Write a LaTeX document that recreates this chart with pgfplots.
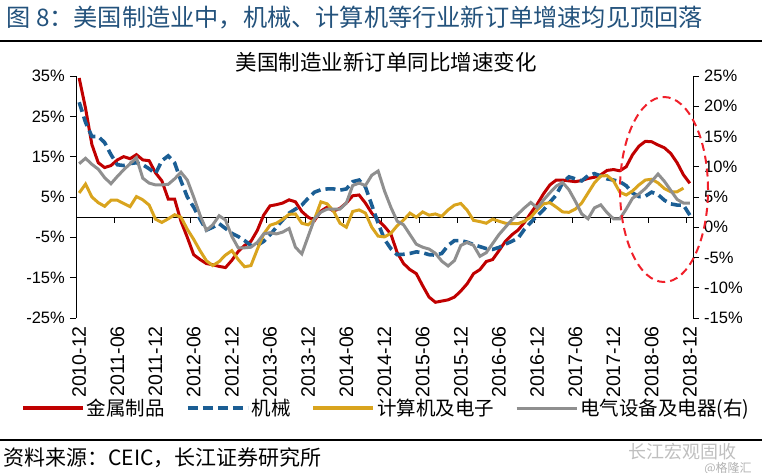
\documentclass[border=0pt]{standalone}
\usepackage{pgfplots}
\usepackage{pgfplotstable}
\pgfplotsset{compat=1.18}
\usepackage{fontspec}
\setmainfont{Liberation Sans}
\newfontfamily\cjk{Noto Sans CJK SC}

\definecolor{cRed}{HTML}{C00000}
\definecolor{cBlue}{HTML}{1B5E94}
\definecolor{cGold}{HTML}{D9A41E}
\definecolor{cGray}{HTML}{8F8F8F}
\definecolor{cTitle}{HTML}{23527C}
\definecolor{cMark}{HTML}{F0202A}

% month index from 2010-12; red/blue/gold on the left axis, gray on the right axis
\pgfplotstableread{
i  red   blue  gold  gray
0  34.5  28.5  6.0   10.5
1  27.0  23.5  8.2   11.4
2  18.0  20.0  5.0   10.4
3  13.5  20.0  3.6   9.6
4  12.3  18.5  2.7   8.2
5  12.8  15.5  4.2   7.2
6  14.2  13.0  4.2   8.4
7  15.0  12.8  3.4   9.5
8  14.5  13.3  2.6   10.5
9  15.5  13.5  5.1   11.5
10 14.2  13.0  4.3   8.1
11 14.0  12.0  3.0   7.3
12 11.0  10.8  -0.5  7.0
13 9.0   14.0  -1.3  7.0
14 4.5   15.2  -0.4  7.1
15 4.5   13.5  0.6   8.0
16 -1.0  9.0   0.0   9.1
17 -5.0  5.0   -3.0  7.8
18 -9.3  2.5   -5.5  5.0
19 -10.5 -0.5  -8.3  2.0
20 -11.5 -3.2  -10.8 -0.5
21 -11.8 -2.5  -12.0 0.4
22 -12.2 -1.6  -11.0 1.9
23 -12.5 -2.8  -9.4  1.2
24 -10.7 -4.0  -8.3  -1.5
25 -8.5  -4.8  -10.5 -3.4
26 -7.0  -5.8  -12.3 -3.4
27 -6.0  -7.0  -12.0 -3.3
28 -3.3  -7.0  -8.0  -2.5
29 0.5   -6.0  -4.2  -1.1
30 2.8   -4.4  -2.0  -0.9
31 3.1   -2.5  -1.5  -1.1
32 3.5   -0.7  -0.5  -0.8
33 4.3   1.0   0.7   -0.2
34 3.8   2.0   0.8   -3.3
35 1.4   3.0   -1.5  -4.4
36 0.0   4.7   -1.9  -1.5
37 -0.8  6.2   -0.5  1.4
38 1.5   6.8   3.8   2.5
39 2.5   7.0   3.3   3.0
40 1.5   7.0   1.5   3.0
41 2.2   6.7   -1.5  3.0
42 3.5   7.0   -2.5  4.0
43 5.3   8.8   1.4   6.9
44 5.5   9.2   1.8   7.3
45 3.5   7.5   1.0   6.9
46 1.0   3.0   -2.5  8.6
47 -0.8  -1.5  -4.7  9.3
48 -2.3  -5.5  -4.9  6.0
49 -4.2  -7.8  -4.0  3.3
50 -8.8  -9.3  -2.1  1.0
51 -11.5 -9.2  -0.7  0.4
52 -13.0 -9.0  1.0   -1.2
53 -14.0 -8.6  0.0   -2.8
54 -17.0 -8.8  1.3   -3.3
55 -19.8 -9.3  0.5   -3.6
56 -21.1 -9.4  0.8   -4.3
57 -20.8 -9.0  0.2   -5.6
58 -20.5 -7.0  1.8   -6.4
59 -19.8 -5.8  3.0   -5.5
60 -18.3 -5.8  3.4   -3.0
61 -16.5 -6.2  1.7   -2.5
62 -14.0 -6.8  -0.8  -3.0
63 -13.0 -7.3  -1.1  -4.8
64 -11.0 -7.8  -1.5  -4.2
65 -10.5 -8.0  -0.5  -2.7
66 -8.3  -7.5  -1.0  -1.2
67 -6.0  -6.7  -1.5  0.0
68 -4.4  -6.0  -1.6  1.2
69 -3.2  -5.2  -1.6  2.2
70 -1.3  -3.0  -1.0  3.2
71 1.0   -1.3  0.0   4.1
72 3.2   0.3   1.8   3.2
73 5.8   1.8   3.3   4.5
74 8.0   3.7   3.6   5.7
75 9.2   5.5   2.5   6.8
76 9.2   8.5   1.3   7.4
77 9.0   10.0  1.2   6.2
78 8.8   9.5   2.0   4.3
79 9.1   9.0   3.5   2.2
80 9.6   10.3  6.0   1.4
81 9.9   10.8  8.5   3.2
82 10.5  10.2  10.2  3.7
83 11.6  9.5   10.3  2.4
84 11.8  9.2   9.0   1.4
85 11.5  8.8   6.2   1.4
86 12.5  7.8   5.5   3.0
87 15.5  6.0   6.5   4.8
88 17.6  5.1   8.0   5.5
89 18.8  5.2   9.2   6.4
90 18.7  6.2   9.4   7.6
91 17.9  5.6   8.5   8.8
92 17.2  4.2   7.1   7.6
93 15.8  3.3   6.3   6.1
94 13.5  3.0   6.3   4.6
95 10.5  3.0   7.2   4.0
96 8.4   0.5   nan   4.0
}\data

\pgfplotsset{
  common/.style={
    scale only axis, width=617pt, height=242pt,
    at={(76pt,154pt)}, anchor=south west,
    xmin=-0.5, xmax=96.5, clip=false,
    axis line style={-, line width=0.9pt},
    tick align=outside, major tick length=6pt,
    tick style={black, line width=0.8pt},
    /pgf/number format/assume math mode=true,
    yticklabel={\pgfmathprintnumber{\tick}\%},
    yticklabel style={font=\fontsize{16.5}{18}\selectfont, inner sep=0pt},
  },
  dashblue/.style={cBlue, line width=3.6pt, dash pattern=on 10pt off 5pt},
}

\begin{document}
\begin{tikzpicture}
\path[use as bounding box] (0,0) rectangle (762pt,472pt);

\node[anchor=west, text=cTitle, font=\cjk\fontsize{24.2}{28}\selectfont] at (3pt,454pt)
  {图 8：美国制造业中，机械、计算机等行业新订单增速均见顶回落};
\draw[line width=1.2pt] (0pt,431pt) -- (762pt,431pt);
\node[font=\cjk\fontsize{21.5}{24}\selectfont] at (386pt,410pt) {美国制造业新订单同比增速变化};

\begin{axis}[common,
  ymin=-25, ymax=35, ytick={-25,-15,...,35},
  axis y line*=left, axis x line*=bottom,
  x axis line style={draw=none},
  xtick={0,6,...,96}, xtick style={draw=none},
  xticklabels={2010-12,2011-06,2011-12,2012-06,2012-12,2013-06,2013-12,2014-06,2014-12,2015-06,2015-12,2016-06,2016-12,2017-06,2017-12,2018-06,2018-12},
  xticklabel style={rotate=90, anchor=east, font=\fontsize{19.5}{20}\selectfont, inner sep=2pt},
  yticklabel style={xshift=-5pt},
]
  \draw[black, line width=0.9pt] (axis cs:-0.5,0) -- (axis cs:96.5,0);
  \pgfplotsinvokeforeach{5.5,11.5,...,95.5}{
    \draw[black, line width=0.8pt] (axis cs:#1,0) -- ++(0pt,-6pt);
  }
  \addplot[cRed, line width=3pt] table[x=i, y=red] {\data};
  \addplot[dashblue] table[x=i, y=blue] {\data};
  \addplot[cGold, line width=3pt] table[x=i, y=gold] {\data};
\end{axis}

\begin{axis}[common,
  ymin=-15, ymax=25, ytick={-15,-10,...,25},
  axis y line*=right, hide x axis,
  yticklabel style={anchor=west, xshift=5pt},
  legend columns=4,
  legend style={at={(0.503,-0.372)}, anchor=center, draw=none, fill=none,
    font=\cjk\fontsize{19.5}{22}\selectfont,
    /tikz/every even column/.append style={column sep=19pt}},
  legend image code/.code={\draw[#1] (0pt,0pt) -- (60pt,0pt);},
]
  \addlegendimage{cRed, line width=3.6pt}
  \addlegendentry{金属制品}
  \addlegendimage{dashblue}
  \addlegendentry{机械}
  \addlegendimage{cGold, line width=3.6pt}
  \addlegendentry{计算机及电子}
  \addplot[cGray, line width=3pt] table[x=i, y=gray] {\data};
  \addlegendentry{电气设备及电器(右)}
\end{axis}

% highlight of the last year
\draw[cMark, line width=2pt, dash pattern=on 8pt off 5pt] (664pt,282.5pt) ellipse [x radius=44pt, y radius=92.5pt];

\draw[line width=1.2pt] (0pt,32pt) -- (762pt,32pt);
\node[anchor=west, font=\cjk\fontsize{21}{24}\selectfont] at (0pt,14pt) {资料来源：CEIC，长江证券研究所};
\node[anchor=center, text=black!25, font=\cjk\fontsize{18}{20}\selectfont] at (682pt,20pt) {长江宏观固收};
\node[anchor=center, text=black!30, font=\cjk\fontsize{12}{14}\selectfont] at (728pt,4pt) {@格隆汇};
\end{tikzpicture}
\end{document}
